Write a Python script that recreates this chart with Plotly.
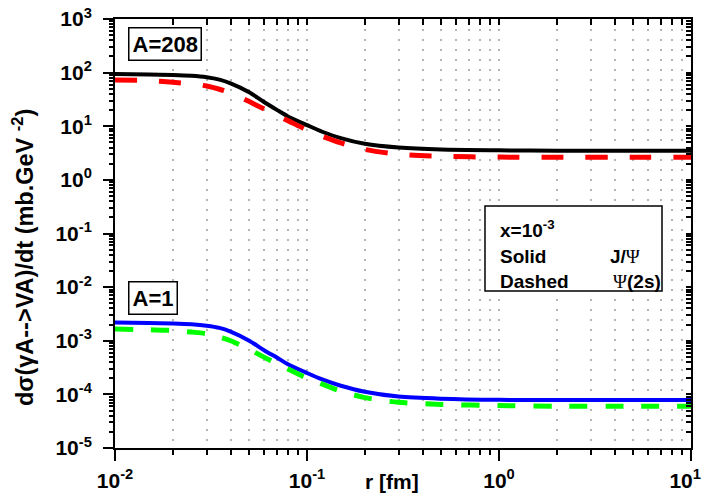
import plotly.graph_objects as go

# ---------------- data ----------------
r = [0.01, 0.015, 0.02, 0.025, 0.03, 0.035, 0.04, 0.05, 0.06, 0.07, 0.08, 0.1, 0.12,
     0.15, 0.2, 0.3, 0.5, 1.0, 2.0, 5.0, 10.0]

jpsi_A208 = [94, 92, 90, 87, 82, 74, 63, 43, 28, 20, 15.1, 10.5, 7.9, 6.0, 4.7, 4.0,
             3.67, 3.55, 3.5, 3.5, 3.5]
psi2s_A208 = [72.8, 70.8, 66, 61.7, 56.2, 49, 41.7, 28.8, 20.9, 15.8, 12.6, 8.5, 6.5,
              4.9, 3.7, 3.0, 2.75, 2.66, 2.63, 2.63, 2.63]
jpsi_A1 = [2.19e-3, 2.15e-3, 2.10e-3, 2.03e-3, 1.91e-3, 1.74e-3, 1.48e-3, 1.0e-3, 6.6e-4,
           4.8e-4, 3.6e-4, 2.5e-4, 1.9e-4, 1.45e-4, 1.12e-4, 9.1e-5, 8.3e-5, 7.9e-5,
           7.85e-5, 7.85e-5, 7.85e-5]
psi2s_A1 = [1.66e-3, 1.60e-3, 1.55e-3, 1.45e-3, 1.35e-3, 1.17e-3, 1.0e-3, 6.9e-4, 4.9e-4,
            3.7e-4, 2.95e-4, 2.0e-4, 1.55e-4, 1.15e-4, 8.7e-5, 7.1e-5, 6.5e-5, 6.2e-5,
            6.0e-5, 6.0e-5, 6.0e-5]

x_major = [0.01, 0.1, 1, 10]
x_major_text = ["10<sup>-2</sup>", "10<sup>-1</sup>", "10<sup>0</sup>",
                "10<sup>1</sup>\u00a0\u00a0"]
y_major = [1e-5, 1e-4, 1e-3, 1e-2, 1e-1, 1, 10, 100, 1000]
y_major_text = ["10<sup>-5</sup>", "10<sup>-4</sup>", "10<sup>-3</sup>", "10<sup>-2</sup>",
                "10<sup>-1</sup>", "10<sup>0</sup>", "10<sup>1</sup>", "10<sup>2</sup>",
                "10<sup>3</sup>"]

x_minor = [m * 10.0 ** d for d in (-2, -1, 0) for m in range(2, 10)]
y_minor = [m * 10.0 ** d for d in range(-5, 3) for m in range(2, 10)]
x_grid = sorted(x_minor + [0.1, 1.0])

FONT = "Arial, Liberation Sans, sans-serif"

fig = go.Figure()

fig.add_trace(go.Scatter(x=r, y=jpsi_A208, mode="lines",
                         line=dict(color="black", width=4, shape="spline", smoothing=0.8)))
fig.add_trace(go.Scatter(x=r, y=psi2s_A208, mode="lines",
                         line=dict(color="#ff0000", width=5, dash="22px,22px", shape="spline", smoothing=0.8)))
fig.add_trace(go.Scatter(x=r, y=jpsi_A1, mode="lines",
                         line=dict(color="#0000ff", width=4, shape="spline", smoothing=0.8)))
fig.add_trace(go.Scatter(x=r, y=psi2s_A1, mode="lines",
                         line=dict(color="#00ff00", width=5, dash="18px,18px", shape="spline", smoothing=0.8)))

# dummy traces to activate overlay axes
fig.add_trace(go.Scatter(x=[None], y=[None], xaxis="x2", yaxis="y2", showlegend=False, hoverinfo="skip"))
fig.add_trace(go.Scatter(x=[None], y=[None], xaxis="x3", yaxis="y3", showlegend=False, hoverinfo="skip"))

common = dict(type="log", zeroline=False, linecolor="black", tickcolor="black", automargin=False)

fig.update_layout(
    width=693, height=485,
    margin=dict(l=107, r=10, t=11, b=45, autoexpand=False),
    paper_bgcolor="white", plot_bgcolor="white",
    showlegend=False,
    font=dict(family=FONT, color="black"),
    xaxis=dict(**common, range=[-2, 1], tickvals=x_major, ticktext=x_major_text,
               ticks="outside", ticklen=11, tickwidth=2, showline=True, linewidth=2,
               showgrid=False, ticklabelstandoff=2, ticklabeloverflow="allow",
               tickfont=dict(size=21, family=FONT, weight="bold")),
    xaxis2=dict(**common, range=[-2, 1], overlaying="x", anchor="y", side="bottom",
                tickvals=x_grid, ticks="outside", ticklen=6, tickwidth=1.5,
                showticklabels=False, showline=False, showgrid=True,
                gridcolor="#b5b5b5", gridwidth=2, griddash="2px,8px"),
    xaxis3=dict(**common, range=[-2, 1], overlaying="x", anchor="y", side="top",
                tickvals=x_grid, ticks="inside", ticklen=6, tickwidth=1.5,
                showticklabels=False, showline=True, linewidth=2, showgrid=False),
    yaxis=dict(**common, range=[-5, 3], tickvals=y_major, ticktext=y_major_text,
               ticks="outside", ticklen=10, tickwidth=2, showline=True, linewidth=2,
               showgrid=False, ticklabelstandoff=7, ticklabeloverflow="allow",
               tickfont=dict(size=21, family=FONT, weight="bold")),
    yaxis2=dict(**common, range=[-5, 3], overlaying="y", anchor="x", side="left",
                tickvals=y_minor, ticks="outside", ticklen=5, tickwidth=1.5,
                showticklabels=False, showline=False, showgrid=False),
    yaxis3=dict(**common, range=[-5, 3], overlaying="y", anchor="x", side="right",
                tickvals=y_minor + y_major, ticks="inside", ticklen=5, tickwidth=1.5,
                showticklabels=False, showline=True, linewidth=2, showgrid=False),
)

# reference-pixel helpers (plot area in the reference: x 115..691, y 19..448)
PX0, PW, PY1, PH = 115, 576, 448, 429


def px(xp):
    return (xp - PX0) / PW


def py(yp):
    return (PY1 - yp) / PH


ann = []
ann.append(dict(text="<b>r [fm]</b>", x=px(392), y=py(481), xref="paper", yref="paper",
                showarrow=False, font=dict(size=21), xanchor="center", yanchor="middle"))
ann.append(dict(text="<b>dσ(γA-->VA)/dt (mb.GeV <sup>-2</sup>)</b>", x=px(23), y=py(258),
                xref="paper", yref="paper", showarrow=False, textangle=-90,
                font=dict(size=23.5), xanchor="center", yanchor="middle"))
ann.append(dict(text="<b>A=208</b>", x=px(165), y=py(44), xref="paper", yref="paper",
                showarrow=False, font=dict(size=22), bgcolor="white", bordercolor="black",
                borderwidth=1.5, borderpad=3, xanchor="center", yanchor="middle"))
ann.append(dict(text="<b>A=1</b>", x=px(153), y=py(298), xref="paper", yref="paper",
                showarrow=False, font=dict(size=22), bgcolor="white", bordercolor="black",
                borderwidth=1.5, borderpad=3, xanchor="center", yanchor="middle"))

psi = "<span style='font-family:Liberation Serif;font-weight:normal'>Ψ</span>"
for txt, xl, yc in [("<b>x=10<sup>-3</sup></b>", 498, 229),
                    ("<b>Solid</b>", 498, 256),
                    ("<b>Dashed</b>", 498, 281),
                    ("<b>J/</b>" + psi, 608, 256),
                    (psi + "<b>(2s)</b>", 611, 281)]:
    ann.append(dict(text=txt, x=px(xl), y=py(yc), xref="paper", yref="paper", showarrow=False,
                    font=dict(size=19), xanchor="left", yanchor="middle"))

fig.update_layout(annotations=ann)
fig.add_shape(type="rect", xref="paper", yref="paper",
              x0=px(485), x1=px(662), y0=py(291), y1=py(206),
              line=dict(color="black", width=1.5), fillcolor="white", layer="above")

fig.write_html("out.html")
